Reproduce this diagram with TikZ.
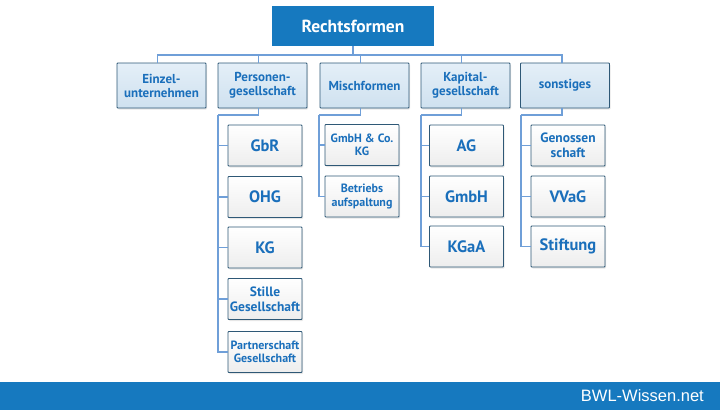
\documentclass[tikz,border=0pt]{standalone}
\usepackage{fontspec}
\setmainfont{PT Sans}
\newfontfamily\arialfont{Liberation Sans}
\usetikzlibrary{shadows}
\definecolor{topblue}{HTML}{1679BF}
\definecolor{txtblue}{HTML}{1A6FBB}
\definecolor{edge}{HTML}{2E5876}
\definecolor{linec}{HTML}{6F9FD8}
\definecolor{lvlA}{HTML}{E4EFF8}
\definecolor{lvlB}{HTML}{CFE1EF}
\tikzset{
  x=1pt, y=-1pt,
  basebox/.style={draw=edge, line width=0.9pt, align=center, inner sep=0pt,
    text=txtblue, font=\bfseries, rounded corners=0.8pt,
    drop shadow={shadow xshift=1pt, shadow yshift=-1.5pt, opacity=0.2}},
  lvl/.style={basebox, minimum width=89pt, minimum height=45pt,
    top color=lvlA, bottom color=lvlB, font=\bfseries\fontsize{13}{14}\selectfont},
  kid/.style={basebox, minimum width=74pt, minimum height=41pt,
    top color=white, bottom color=black!7, font=\bfseries\fontsize{16.5}{17}\selectfont},
  kidsm/.style={kid, font=\bfseries\fontsize{13.5}{15}\selectfont},
  kidxs/.style={kid, font=\bfseries\fontsize{12}{13.5}\selectfont},
  conn/.style={draw=linec, line width=1.3pt},
}
\begin{document}
\begin{tikzpicture}
\useasboundingbox (0,0) rectangle (720,410);
% bottom bar
\fill[topblue] (0,382) rectangle (720,410);
\node[anchor=east, text=white, font=\arialfont\fontsize{16.5}{18}\selectfont, inner sep=0pt] (brand) at (704,396) {BWL-Wissen.net};
% top box
\node[fill=topblue, minimum width=162pt, minimum height=40pt, inner sep=0pt,
  text=white, font=\bfseries\fontsize{17.5}{19}\selectfont] (top) at (353,26) {Rechtsformen};
\coordinate (bus) at (353,55);
% level 1
\node[lvl] (einzel) at (161.5,85.5) {Einzel-\\unternehmen};
\node[lvl] (pers) at (262.5,85.5) {Personen-\\gesellschaft};
\node[lvl] (misch) at (364.5,85.5) {Mischformen};
\node[lvl] (kap) at (465.5,85.5) {Kapital-\\gesellschaft};
\node[lvl] (sonst) at (565,85.5) {sonstiges};
% children Personen
\node[kid] (gbr) at (265,145.5) {GbR};
\node[kid] (ohg) at (265,197) {OHG};
\node[kid] (kg) at (265,247.5) {KG};
\node[kidsm] (stille) at (265,299) {Stille\\Gesellschaft};
\node[kidxs] (partner) at (265,352) {Partnerschaft\\Gesellschaft};
% children Misch
\node[kidxs] (gmbhco) at (362,145) {GmbH \& Co.\\KG};
\node[kidxs] (betr) at (362,196.5) {Betriebs\\aufspaltung};
% children Kapital
\node[kid] (ag) at (466.5,145.5) {AG};
\node[kid] (gmbh) at (466.5,196.5) {GmbH};
\node[kid] (kgaa) at (466.5,246.5) {KGaA};
% children sonstiges
\node[kidsm] (geno) at (568,145.5) {Genossen\\schaft};
\node[kid] (vvag) at (568,196.5) {VVaG};
\node[kid] (stift) at (568,246.5) {Stiftung};
% connectors top
\draw[conn] (top.south) -- (bus);
\draw[conn] (bus) -| ([xshift=-4pt]einzel.north);
\draw[conn] (bus) -| ([xshift=-4pt]pers.north);
\draw[conn] (bus) -| ([xshift=-4pt]misch.north);
\draw[conn] (bus) -| ([xshift=-4pt]kap.north);
\draw[conn] (bus) -| ([xshift=-3pt]sonst.north);
% Personen branch
\coordinate (pv) at (218,115);
\draw[conn] ([xshift=-4pt]pers.south) |- (pv);
\foreach \c in {gbr,ohg,kg,stille,partner} \draw[conn] (pv) |- (\c.west);
% Misch branch
\coordinate (mv) at (319,115);
\draw[conn] ([xshift=-4pt]misch.south) |- (mv);
\foreach \c in {gmbhco,betr} \draw[conn] (mv) |- (\c.west);
% Kapital branch
\coordinate (kv) at (421,115);
\draw[conn] ([xshift=-4pt]kap.south) |- (kv);
\foreach \c in {ag,gmbh,kgaa} \draw[conn] (kv) |- (\c.west);
% sonstiges branch
\coordinate (sv) at (521,115);
\draw[conn] ([xshift=-3pt]sonst.south) |- (sv);
\foreach \c in {geno,vvag,stift} \draw[conn] (sv) |- (\c.west);
\end{tikzpicture}
\end{document}
